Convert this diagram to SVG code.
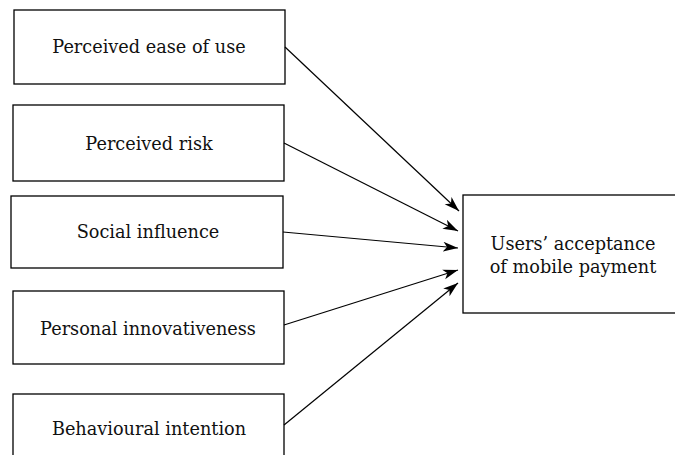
<svg xmlns="http://www.w3.org/2000/svg" width="675" height="455" viewBox="0 0 675 455">
<style>
.box{fill:#fff;stroke:#000;stroke-width:1.3}
.t{font-family:"DejaVu Serif","Liberation Serif",serif;font-size:17.7px;fill:#111;text-anchor:middle}
.c{stroke:#000;stroke-width:1.2;fill:none;marker-end:url(#ah)}
</style>
<defs>
<marker id="ah" markerUnits="userSpaceOnUse" markerWidth="16" markerHeight="12" refX="15" refY="5" orient="auto" viewBox="0 0 16 10">
<path d="M0,0 L15,5 L0,10 L4,5 z" fill="#000"/>
</marker>
</defs>
<rect width="675" height="455" fill="#fff"/>
<g id="n1"><rect class="box" x="14" y="10" width="271" height="74"/><text class="t" x="149" y="53">Perceived ease of use</text></g>
<g id="n2"><rect class="box" x="13" y="105" width="271" height="76"/><text class="t" x="149" y="150">Perceived risk</text></g>
<g id="n3"><rect class="box" x="11" y="196" width="272" height="72"/><text class="t" x="148" y="238">Social influence</text></g>
<g id="n4"><rect class="box" x="13" y="291" width="271" height="73"/><text class="t" x="148" y="335">Personal innovativeness</text></g>
<g id="n5"><rect class="box" x="13" y="394" width="271" height="70"/><text class="t" x="149" y="435">Behavioural intention</text></g>
<g id="n6"><rect class="box" x="463" y="195" width="230" height="118"/><text class="t" x="573" y="250">Users’ acceptance</text><text class="t" x="573" y="273">of mobile payment</text></g>
<g id="connectors">
<line class="c" x1="285" y1="47" x2="459" y2="211"/>
<line class="c" x1="284" y1="143" x2="458" y2="231"/>
<line class="c" x1="283" y1="232" x2="458" y2="248"/>
<line class="c" x1="284" y1="325" x2="458" y2="270"/>
<line class="c" x1="284" y1="425" x2="458" y2="283"/>
</g>
</svg>
